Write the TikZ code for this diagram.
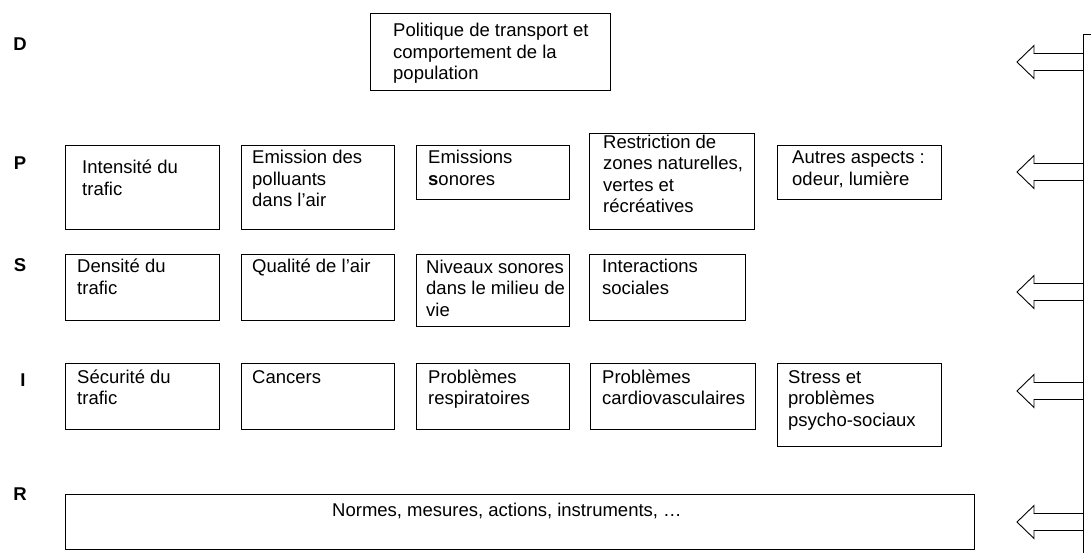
\documentclass[tikz,border=0pt]{standalone}
\usepackage{fontspec}
\setmainfont{Liberation Sans}
\begin{document}
\begin{tikzpicture}[x=1pt,y=-1pt,
  bx/.style={draw=black, line width=0.9pt, inner sep=0pt, anchor=north west},
  tx/.style={anchor=north west, inner sep=0pt, align=left, font=\fontsize{18.5}{21.5}\selectfont},
  lbl/.style={inner sep=0pt, font=\fontsize{18.5}{21.5}\selectfont\bfseries},
  blockarrow/.pic={\draw[line width=0.9pt, line join=miter] (0,-8.5) -- (-49,-8.5) -- (-49,-16.5) -- (-66,0) -- (-49,16.5) -- (-49,8.5) -- (0,8.5);}
]
\useasboundingbox (0,0) rectangle (1091,553);

% row labels
\node[lbl] (lD) at (20,44) {D};
\node[lbl] (lP) at (20,163) {P};
\node[lbl] (lS) at (20,265) {S};
\node[lbl] (lI) at (23,380) {I};
\node[lbl] (lR) at (20,494) {R};

% D
\node[bx, minimum width=240, minimum height=77] (pol) at (370,13) {};
\node[tx] (polT) at (393,21.75) {\strut Politique de transport et\\comportement de la\\population};

% P row
\node[bx, minimum width=154, minimum height=84] (int) at (65,145) {};
\node[tx] (intT) at (82,158.5) {\strut Intensité du\\trafic};
\node[bx, minimum width=153, minimum height=84] (emi) at (241,145) {};
\node[tx] (emiT) at (252,148.5) {\strut Emission des\\polluants\\dans l’air};
\node[bx, minimum width=153, minimum height=54] (son) at (416,145) {};
\node[tx] (sonT) at (428,148.5) {\strut Emissions\\\textbf{s}onores};
\node[bx, minimum width=165, minimum height=96] (res) at (589,133) {};
\node[tx] (resT) at (603,133) {\strut Restriction de\\zones naturelles,\\vertes et\\récréatives};
\node[bx, minimum width=164, minimum height=54] (aut) at (777,145) {};
\node[tx] (autT) at (792,148.5) {\strut Autres aspects :\\odeur, lumière};

% S row
\node[bx, minimum width=154, minimum height=66] (den) at (65,254) {};
\node[tx] (denT) at (77,257.75) {\strut Densité du\\trafic};
\node[bx, minimum width=153, minimum height=66] (qua) at (241,254) {};
\node[tx] (quaT) at (252,257.75) {\strut Qualité de l’air};
\node[bx, minimum width=153, minimum height=72] (niv) at (416,254) {};
\node[tx] (nivT) at (426,257.75) {\strut Niveaux sonores\\dans le milieu de\\vie};
\node[bx, minimum width=156, minimum height=66] (inter) at (589,254) {};
\node[tx] (interT) at (602,257.75) {\strut Interactions\\sociales};

% I row
\node[bx, minimum width=154, minimum height=66] (sec) at (65,363) {};
\node[tx] (secT) at (77,367.75) {\strut Sécurité du\\trafic};
\node[bx, minimum width=153, minimum height=66] (can) at (241,363) {};
\node[tx] (canT) at (252,367.75) {\strut Cancers};
\node[bx, minimum width=153, minimum height=66] (resp) at (416,363) {};
\node[tx] (respT) at (428,367.75) {\strut Problèmes\\respiratoires};
\node[bx, minimum width=165, minimum height=66] (card) at (590,363) {};
\node[tx] (cardT) at (602,367.75) {\strut Problèmes\\cardiovasculaires};
\node[bx, minimum width=164, minimum height=83] (str) at (777,363) {};
\node[tx] (strT) at (788,367.75) {\strut Stress et\\problèmes\\psycho-sociaux};

% R row
\node[bx, minimum width=909, minimum height=55] (nor) at (65,494) {};
\node[tx] (norT) at (332,501) {\strut Normes, mesures, actions, instruments, …};

% right feedback line and arrows
\coordinate (vtick) at (1091,34);
\coordinate (vtop) at (1083,34);
\coordinate (vbot) at (1083,553);
\draw[line width=0.9pt] (vtick) -- (vtop) -- (vbot);
\coordinate (aD) at (1083,62);
\coordinate (aP) at (1083,172);
\coordinate (aS) at (1083,292);
\coordinate (aI) at (1083,391);
\coordinate (aR) at (1083,522);
\pic at (aD) {blockarrow};
\pic at (aP) {blockarrow};
\pic at (aS) {blockarrow};
\pic at (aI) {blockarrow};
\pic at (aR) {blockarrow};
\end{tikzpicture}
\end{document}
